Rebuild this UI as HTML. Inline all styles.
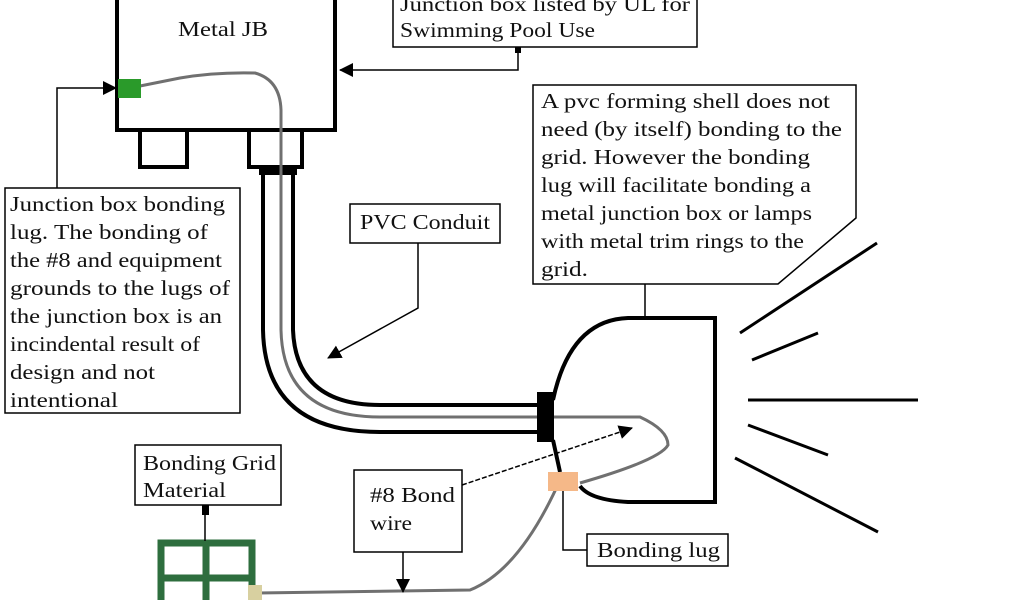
<!DOCTYPE html>
<html><head><meta charset="utf-8"><style>
html,body{margin:0;padding:0;background:#fff}
svg text{font-family:"Liberation Serif",serif;font-size:21px;fill:#111}
</style></head><body>
<svg width="1024" height="600" viewBox="0 0 1024 600" xmlns="http://www.w3.org/2000/svg">
<defs>
<marker id="ar" markerWidth="14" markerHeight="14" refX="13" refY="7" orient="auto" markerUnits="userSpaceOnUse" viewBox="0 0 14 14"><path d="M0,0 L14,7 L0,14 z" fill="#000"/></marker>
</defs>
<!-- Metal JB -->
<rect x="117" y="-10" width="218" height="140" fill="#fff" stroke="#000" stroke-width="4"/>
<text x="178" y="36" textLength="90" lengthAdjust="spacingAndGlyphs">Metal JB</text>
<rect x="140" y="130" width="47" height="37" fill="#fff" stroke="#000" stroke-width="4"/>
<rect x="249" y="130" width="53" height="37" fill="#fff" stroke="#000" stroke-width="4"/>
<rect x="259" y="167" width="38" height="8" fill="#000"/>
<!-- conduit -->
<path d="M263,170 L263,330 Q265,432 380,432 L540,432" fill="none" stroke="#000" stroke-width="4"/>
<path d="M293,170 L293,330 Q296,405 380,405 L540,405" fill="none" stroke="#000" stroke-width="4"/>
<!-- gray wire -->
<path d="M130,88 L180,78 Q215,72 255,73 Q280,80 281,110 L281,330 Q283,417 380,417 L640,417 Q668,430 668,445 Q660,460 580,483" fill="none" stroke="#707070" stroke-width="3"/>
<path d="M560,480 Q520,570 470,590 L258,593" fill="none" stroke="#707070" stroke-width="3"/>
<rect x="537" y="392" width="17" height="50" fill="#000"/>
<!-- fixture shell -->
<path d="M553,400 Q570,320 628,318 L715,318 L715,502 L628,502 Q590,500 580,486" fill="none" stroke="#000" stroke-width="4"/>
<path d="M553,440 L560,472" stroke="#000" stroke-width="4"/>
<!-- lugs -->
<rect x="118" y="79" width="23" height="19" fill="#2a9a2a"/>
<rect x="548" y="472" width="30" height="19" fill="#f5b888"/>
<!-- grid -->
<g stroke="#2e6e3e" stroke-width="7" fill="none">
<path d="M161,600 L161,543 L252,543 L252,600"/>
<line x1="206" y1="543" x2="206" y2="600"/>
<line x1="161" y1="578" x2="252" y2="578"/>
</g>
<rect x="248" y="585" width="14" height="15" fill="#d8d0a0"/>
<!-- labels -->
<rect x="393" y="-10" width="304" height="57" fill="#fff" stroke="#000" stroke-width="1.5"/>
<text x="400" y="11" textLength="290" lengthAdjust="spacingAndGlyphs">Junction box listed by UL for</text>
<text x="400" y="37" textLength="195" lengthAdjust="spacingAndGlyphs">Swimming Pool Use</text>
<rect x="515" y="47" width="6" height="6" fill="#000"/>
<path d="M518,50 L518,70 L340,70" fill="none" stroke="#000" stroke-width="1.5" marker-end="url(#ar)"/>
<rect x="5" y="188" width="235" height="225" fill="#fff" stroke="#000" stroke-width="1.5"/>
<g>
<text x="10" y="211" textLength="215" lengthAdjust="spacingAndGlyphs">Junction box bonding</text>
<text x="10" y="239" textLength="198" lengthAdjust="spacingAndGlyphs">lug. The bonding of</text>
<text x="10" y="267" textLength="212" lengthAdjust="spacingAndGlyphs">the #8 and equipment</text>
<text x="10" y="295" textLength="220" lengthAdjust="spacingAndGlyphs">grounds to the lugs of</text>
<text x="10" y="323" textLength="212" lengthAdjust="spacingAndGlyphs">the junction box is an</text>
<text x="10" y="351" textLength="190" lengthAdjust="spacingAndGlyphs">incindental result of</text>
<text x="10" y="379" textLength="145" lengthAdjust="spacingAndGlyphs">design and not</text>
<text x="10" y="407" textLength="108" lengthAdjust="spacingAndGlyphs">intentional</text>
</g>
<path d="M57,188 L57,88 L116,88" fill="none" stroke="#000" stroke-width="1.5" marker-end="url(#ar)"/>
<rect x="350" y="204" width="150" height="39" fill="#fff" stroke="#000" stroke-width="1.5"/>
<text x="360" y="229" textLength="130" lengthAdjust="spacingAndGlyphs">PVC Conduit</text>
<path d="M418,243 L418,308 L328,358" fill="none" stroke="#000" stroke-width="1.5" marker-end="url(#ar)"/>
<path d="M533,85 L856,85 L856,218 L778,284 L533,284 Z" fill="#fff" stroke="#000" stroke-width="1.5"/>
<text x="541" y="108" textLength="289" lengthAdjust="spacingAndGlyphs">A pvc forming shell does not</text>
<text x="541" y="136" textLength="301" lengthAdjust="spacingAndGlyphs">need (by itself) bonding to the</text>
<text x="541" y="164" textLength="269" lengthAdjust="spacingAndGlyphs">grid. However the bonding</text>
<text x="541" y="192" textLength="270" lengthAdjust="spacingAndGlyphs">lug will facilitate bonding a</text>
<text x="541" y="220" textLength="271" lengthAdjust="spacingAndGlyphs">metal junction box or lamps</text>
<text x="541" y="248" textLength="263" lengthAdjust="spacingAndGlyphs">with metal trim rings to the</text>
<text x="541" y="276" textLength="47" lengthAdjust="spacingAndGlyphs">grid.</text>
<line x1="645" y1="284" x2="645" y2="318" stroke="#000" stroke-width="1.5"/>
<!-- rays -->
<g stroke="#000" stroke-width="3">
<line x1="740" y1="333" x2="877" y2="243"/>
<line x1="752" y1="360" x2="818" y2="333"/>
<line x1="748" y1="400" x2="918" y2="400"/>
<line x1="748" y1="425" x2="828" y2="455"/>
<line x1="735" y1="458" x2="878" y2="532"/>
</g>
<rect x="135" y="445" width="146" height="60" fill="#fff" stroke="#000" stroke-width="1.5"/>
<text x="143" y="470" textLength="133" lengthAdjust="spacingAndGlyphs">Bonding Grid</text>
<text x="143" y="497" textLength="83" lengthAdjust="spacingAndGlyphs">Material</text>
<rect x="202" y="505" width="7" height="10" fill="#000"/>
<line x1="205" y1="515" x2="205" y2="541" stroke="#000" stroke-width="1.5"/>
<rect x="354" y="470" width="108" height="82" fill="#fff" stroke="#000" stroke-width="1.5"/>
<text x="370" y="502" textLength="85" lengthAdjust="spacingAndGlyphs">#8 Bond</text>
<text x="370" y="530" textLength="42" lengthAdjust="spacingAndGlyphs">wire</text>
<path d="M462,485 L632,428" fill="none" stroke="#000" stroke-width="1.5" stroke-dasharray="5,2" marker-end="url(#ar)"/>
<path d="M403,552 L403,592" fill="none" stroke="#000" stroke-width="1.5" marker-end="url(#ar)"/>
<rect x="587" y="534" width="141" height="32" fill="#fff" stroke="#000" stroke-width="1.5"/>
<text x="597" y="557" textLength="123" lengthAdjust="spacingAndGlyphs">Bonding lug</text>
<path d="M563,491 L563,550 L587,550" fill="none" stroke="#000" stroke-width="1.5"/>
</svg>
</body></html>
